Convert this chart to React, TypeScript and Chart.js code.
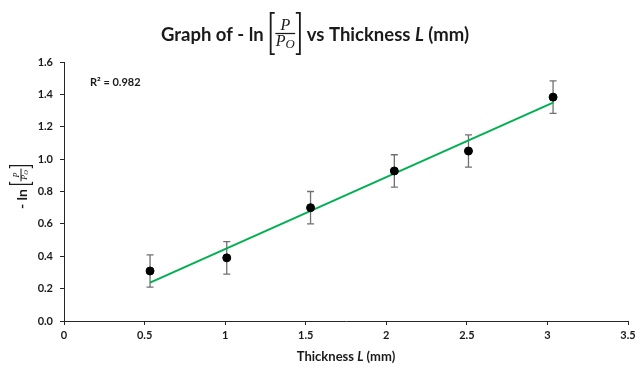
import React, { useEffect, useRef } from 'react';
import { Chart, registerables } from 'chart.js';

Chart.register(...registerables);

// ---- data ----
const thicknessMM = [0.534, 1.01, 1.53, 2.05, 2.51, 3.035];
const negLnRatio = [0.309, 0.39, 0.7, 0.927, 1.05, 1.383];
const errorBars = [0.1, 0.1, 0.1, 0.1, 0.1, 0.1];
const xTickValues = [0, 0.5, 1, 1.5, 2, 2.5, 3, 3.5];
const yTickValues = [0, 0.2, 0.4, 0.6, 0.8, 1.0, 1.2, 1.4, 1.6];
// linear trendline as drawn in the reference (slope, intercept)
const trendSlope = 0.4445;
const trendIntercept = 0.0;
const rSquaredLabel = 'R\u00B2 = 0.982';
const titleParts = ['Graph of - ln', 'vs Thickness ', 'L', ' (mm)'];
const xTitleParts = ['Thickness ', 'L', ' (mm)'];
const yTitleText = '- ln';

const TEXT = '#1a1a1a';
const FRAC_FONT = (s: number) => `italic ${s}px "Liberation Serif"`;

function drawBracketFrac(ctx: CanvasRenderingContext2D, left: number, cy: number, w: number, h: number, fs: number, lw: number) {
  const top = cy - h / 2, bot = cy + h / 2;
  const serif = Math.max(3, w * 0.16);
  ctx.save();
  ctx.strokeStyle = TEXT;
  ctx.fillStyle = TEXT;
  ctx.lineWidth = lw;
  ctx.beginPath();
  ctx.moveTo(left + serif, top + lw / 2);
  ctx.lineTo(left + lw / 2, top + lw / 2);
  ctx.lineTo(left + lw / 2, bot - lw / 2);
  ctx.lineTo(left + serif, bot - lw / 2);
  ctx.moveTo(left + w - serif, top + lw / 2);
  ctx.lineTo(left + w - lw / 2, top + lw / 2);
  ctx.lineTo(left + w - lw / 2, bot - lw / 2);
  ctx.lineTo(left + w - serif, bot - lw / 2);
  ctx.stroke();
  ctx.lineWidth = Math.max(1, lw * 0.7);
  ctx.beginPath();
  ctx.moveTo(left + w * 0.18, cy);
  ctx.lineTo(left + w * 0.82, cy);
  ctx.stroke();
  const cx = left + w / 2;
  ctx.font = FRAC_FONT(fs);
  ctx.textAlign = 'center';
  ctx.textBaseline = 'alphabetic';
  ctx.fillText('P', cx, cy - fs * 0.2);
  const pw = ctx.measureText('P').width;
  ctx.font = FRAC_FONT(fs * 0.8);
  const ow = ctx.measureText('O').width;
  const tot = pw + ow;
  ctx.textAlign = 'left';
  ctx.font = FRAC_FONT(fs);
  ctx.fillText('P', cx - tot / 2, cy + fs * 0.8);
  ctx.font = FRAC_FONT(fs * 0.8);
  ctx.fillText('O', cx - tot / 2 + pw, cy + fs * 0.9);
  ctx.restore();
}

const overlayPlugin = {
  id: 'overlay',
  beforeDatasetsDraw(chart: any) {
    const ctx: CanvasRenderingContext2D = chart.ctx;
    const xs = chart.scales.x, ys = chart.scales.y;
    ctx.save();
    ctx.strokeStyle = '#707070';
    ctx.lineWidth = 1.3;
    for (let i = 0; i < thicknessMM.length; i++) {
      const px = xs.getPixelForValue(thicknessMM[i]);
      const pTop = ys.getPixelForValue(negLnRatio[i] + errorBars[i]);
      const pBot = ys.getPixelForValue(negLnRatio[i] - errorBars[i]);
      ctx.beginPath();
      ctx.moveTo(px, pTop);
      ctx.lineTo(px, pBot);
      ctx.moveTo(px - 3.5, pTop);
      ctx.lineTo(px + 3.5, pTop);
      ctx.moveTo(px - 3.5, pBot);
      ctx.lineTo(px + 3.5, pBot);
      ctx.stroke();
    }
    ctx.restore();
  },
  afterDraw(chart: any) {
    const ctx: CanvasRenderingContext2D = chart.ctx;
    const area = chart.chartArea;
    ctx.save();
    ctx.fillStyle = TEXT;
    ctx.textBaseline = 'middle';
    ctx.textAlign = 'left';

    // ---- main title ----
    const tf = 'bold 18.5px Lato';
    const tfi = 'italic bold 18.5px Lato';
    const fracW = 31, gap = 6;
    ctx.font = tf;
    const w0 = ctx.measureText(titleParts[0]).width;
    const w1 = ctx.measureText(titleParts[1]).width;
    const w3 = ctx.measureText(titleParts[3]).width;
    ctx.font = tfi;
    const w2 = ctx.measureText(titleParts[2]).width;
    const total = w0 + gap + fracW + gap + w1 + w2 + w3;
    let x = 315 - total / 2;
    const ty = 35;
    ctx.font = tf;
    ctx.fillText(titleParts[0], x, ty);
    x += w0 + gap;
    drawBracketFrac(ctx, x, 33.5, fracW, 43, 16, 1.8);
    x += fracW + gap;
    ctx.fillText(titleParts[1], x, ty);
    x += w1;
    ctx.font = tfi;
    ctx.fillText(titleParts[2], x, ty);
    x += w2;
    ctx.font = tf;
    ctx.fillText(titleParts[3], x, ty);

    // ---- x title ----
    const xf = 'bold 13px Lato';
    const xfi = 'italic bold 13px Lato';
    ctx.font = xf;
    const a0 = ctx.measureText(xTitleParts[0]).width;
    const a2 = ctx.measureText(xTitleParts[2]).width;
    ctx.font = xfi;
    const a1 = ctx.measureText(xTitleParts[1]).width;
    let xx = (area.left + area.right) / 2 - (a0 + a1 + a2) / 2;
    const xty = 357;
    ctx.font = xf;
    ctx.fillText(xTitleParts[0], xx, xty);
    xx += a0;
    ctx.font = xfi;
    ctx.fillText(xTitleParts[1], xx, xty);
    xx += a1;
    ctx.font = xf;
    ctx.fillText(xTitleParts[2], xx, xty);

    // ---- y title (rotated) ----
    ctx.save();
    ctx.translate(22, 187);
    ctx.rotate(-Math.PI / 2);
    ctx.font = 'bold 14px Lato';
    const yw = ctx.measureText(yTitleText).width;
    const yFracW = 20, yGap = 4;
    const ytot = yw + yGap + yFracW;
    let yx = -ytot / 2;
    ctx.textBaseline = 'middle';
    ctx.fillText(yTitleText, yx, 0);
    yx += yw + yGap;
    drawBracketFrac(ctx, yx, -1, yFracW, 24, 8, 1.2);
    ctx.restore();

    // ---- R² label ----
    ctx.font = 'bold 11px Lato';
    ctx.textBaseline = 'middle';
    ctx.fillText(rSquaredLabel, 90, 82);
    ctx.restore();
  },
};

export default function App() {
  const ref = useRef<HTMLCanvasElement | null>(null);
  useEffect(() => {
    if (!ref.current) return;
    const xMin = Math.min(...thicknessMM);
    const xMax = Math.max(...thicknessMM);
    const tickFont = { family: 'Lato', size: 11, weight: 'bold' as const };
    const chart = new Chart(ref.current, {
      type: 'scatter',
      data: {
        datasets: [
          {
            label: 'data',
            data: thicknessMM.map((v, i) => ({ x: v, y: negLnRatio[i] })),
            backgroundColor: '#000',
            borderColor: '#000',
            pointRadius: 4,
            pointHoverRadius: 4,
            order: 0,
          },
          {
            label: 'trend',
            data: [
              { x: xMin, y: trendIntercept + trendSlope * xMin },
              { x: xMax, y: trendIntercept + trendSlope * xMax },
            ],
            showLine: true,
            borderColor: '#00B050',
            borderWidth: 2,
            pointRadius: 0,
            order: 1,
          },
        ],
      },
      options: {
        responsive: false,
        animation: false,
        devicePixelRatio: 1,
        layout: { padding: { left: 0, right: 12, top: 62, bottom: 0 } },
        plugins: { legend: { display: false }, tooltip: { enabled: false }, title: { display: false } },
        scales: {
          x: {
            type: 'linear',
            min: 0,
            max: 3.5,
            afterBuildTicks: (s: any) => { s.ticks = xTickValues.map((v) => ({ value: v })); },
            afterFit: (s: any) => { s.height = 47; },
            ticks: { font: tickFont, color: TEXT, padding: 4, maxRotation: 0, callback: (v: any) => String(Number(v)) },
            grid: { drawOnChartArea: false, drawTicks: true, tickLength: 4, color: '#262626', lineWidth: 1 },
            border: { display: true, color: '#262626', width: 1 },
          },
          y: {
            type: 'linear',
            min: 0,
            max: 1.6,
            afterBuildTicks: (s: any) => { s.ticks = yTickValues.map((v) => ({ value: v })); },
            afterFit: (s: any) => { s.width = 64; },
            ticks: { font: tickFont, color: TEXT, padding: 7, callback: (v: any) => Number(v).toFixed(1) },
            grid: { drawOnChartArea: false, drawTicks: true, tickLength: 4, color: '#262626', lineWidth: 1 },
            border: { display: true, color: '#262626', width: 1 },
          },
        },
      },
      plugins: [overlayPlugin],
    });
    return () => chart.destroy();
  }, []);
  return (
    <div style={{ position: 'absolute', left: 0, top: 0, width: 640, height: 368, background: '#fff' }}>
      <canvas ref={ref} width={640} height={368} style={{ display: 'block' }} />
    </div>
  );
}
